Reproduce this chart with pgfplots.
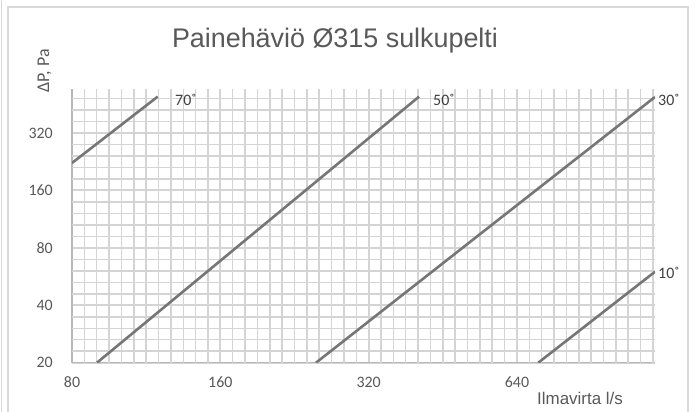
\documentclass[border=0pt]{standalone}
\usepackage{fontspec}
\usepackage{pgfplots}
\pgfplotsset{compat=1.18}
\setmainfont{Carlito}
\newfontfamily\arial{Liberation Sans}
\definecolor{gridc}{RGB}{212,212,212}
\definecolor{linec}{RGB}{118,118,118}
\definecolor{txt}{RGB}{89,89,89}
\definecolor{bord}{RGB}{217,217,217}
\definecolor{lbl}{RGB}{64,64,64}
\begin{document}
\begin{tikzpicture}[x=1bp,y=1bp]
\useasboundingbox (0,0) rectangle (698,411);
\fill[white] (0,0) rectangle (698,411);
\draw[bord, line width=1.5bp] (8,-2) -- (8,404) -- (688,404) -- (688,-2);
\draw[bord, line width=1bp] (1.5,-2) -- (1.5,413);
\begin{axis}[
  at={(72bp,48.3bp)}, anchor=south west,
  scale only axis, width=583bp, height=273.7bp,
  xmode=log, ymode=log, log basis x=2, log basis y=2,
  xmin=80, xmax=1220, ymin=20, ymax=545,
  xtick={80,160,320,640}, xticklabels={80,160,320,640},
  ytick={20,40,80,160,320}, yticklabels={20,40,80,160,320},
  minor xtick={}, minor ytick={},
  extra x ticks={84.757,89.797,95.137,100.794,106.787,113.137,119.865,126.992,134.543,142.544,151.020,
    169.51,179.59,190.27,201.59,213.57,226.27,239.73,253.98,269.09,285.09,302.04,
    339.03,359.19,380.55,403.17,427.15,452.55,479.46,507.97,538.17,570.18,604.08,
    678.05,718.37,761.09,806.35,854.30,905.10,958.92,1015.94,1076.35,1140.35,1208.16},
  extra y ticks={22.974,26.390,30.314,34.822,45.948,52.780,60.629,69.644,
    91.896,105.561,121.258,139.288,183.79,211.12,242.52,278.58,367.58,422.24,485.03},
  extra x tick labels={}, extra y tick labels={},
  extra tick style={grid=major, major grid style={gridc, line width=1.5bp}, tick style={draw=none}},
  grid=major,
  major grid style={gridc, line width=2bp},
  tick style={draw=none},
  axis x line*=bottom, axis y line*=left,
  axis line style={draw=black!28, line width=1.3bp, -},
  tick label style={font=\fontsize{16}{16}\selectfont, text=txt, inner sep=0pt},
  xticklabel shift=14bp, yticklabel shift=19bp,
  clip=true,
]
\addplot[linec, line width=2.6bp] coordinates {(80,223) (119.4,497)};
\addplot[linec, line width=2.6bp] coordinates {(89.9,20) (405,497)};
\addplot[linec, line width=2.6bp] coordinates {(250.2,20) (1220,495)};
\addplot[linec, line width=2.6bp] coordinates {(707,20) (1220,60)};
\draw[blue!15, line width=1bp] (rel axis cs:1,0) -- (rel axis cs:1,1);
\end{axis}
\node[anchor=base, font=\arial\fontsize{27}{27}\selectfont, text=txt] at (335,364) {Painehäviö Ø315 sulkupelti};
\node[rotate=90, font=\fontsize{18}{18}\selectfont, text=txt] at (44.5,340) {ΔP, Pa};
\node[anchor=west, font=\arial\fontsize{17}{17}\selectfont, text=txt, inner sep=0pt] at (537,13) {Ilmavirta l/s};
\node[anchor=west, font=\fontsize{16}{16}\selectfont, text=lbl, inner sep=0pt] at (175,311) {70˚};
\node[anchor=west, font=\fontsize{16}{16}\selectfont, text=lbl, inner sep=0pt] at (433,311) {50˚};
\node[anchor=west, font=\fontsize{16}{16}\selectfont, text=lbl, inner sep=0pt] at (658,311) {30˚};
\node[anchor=west, font=\fontsize{16}{16}\selectfont, text=lbl, inner sep=0pt] at (658,138.3) {10˚};
\end{tikzpicture}
\end{document}
